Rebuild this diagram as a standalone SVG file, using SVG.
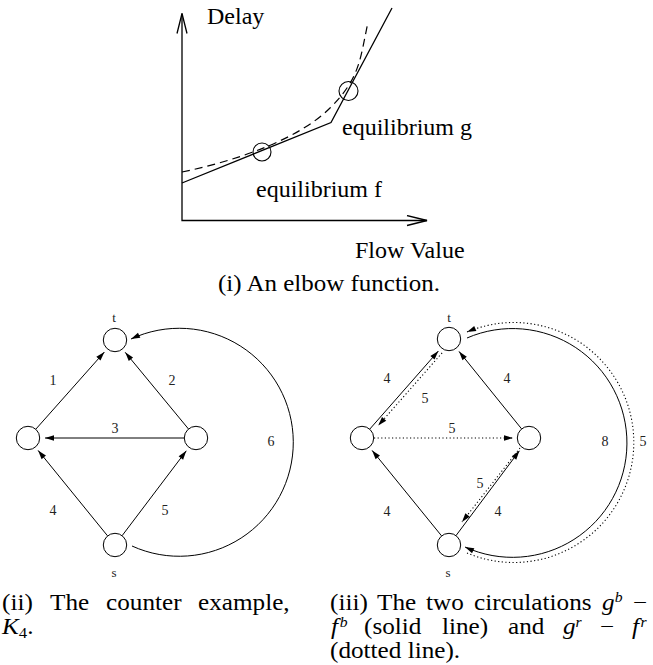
<svg xmlns="http://www.w3.org/2000/svg" width="653" height="665" viewBox="0 0 653 665">
<style>
.ax{fill:none;stroke:#000;stroke-width:1.3}
.cv{fill:none;stroke:#000;stroke-width:1.3}
.ds{fill:none;stroke:#000;stroke-width:1.2;stroke-dasharray:8 5}
.eq{fill:none;stroke:#000;stroke-width:1.1}
.lbl{font-family:"Liberation Serif",serif;font-size:24px;fill:#000}
.nd{fill:#fff;stroke:#000;stroke-width:1}
.ed{fill:none;stroke:#000;stroke-width:1}
.dt{fill:none;stroke:#000;stroke-width:1.1;stroke-dasharray:1.2 2.4}
.gl{font-family:"Liberation Serif",serif;font-size:14px;fill:#222;text-anchor:middle}
.nl{font-family:"Liberation Serif",serif;font-size:13px;fill:#222;text-anchor:middle}
.cap{font-family:"Liberation Serif",serif;font-size:22.5px;fill:#000}
.it{font-style:italic}
.sup{font-style:italic;font-size:14px}
.sub{font-size:15px}
</style>
<defs>
<marker id="open" viewBox="-21 -6 22 12" refX="0" refY="0" markerWidth="22" markerHeight="12" markerUnits="userSpaceOnUse" orient="auto-start-reverse">
<path d="M-20,-5 L0,0 L-20,5" fill="none" stroke="#000" stroke-width="1.3"/>
</marker>
<marker id="arr" viewBox="-10 -4 11 8" refX="0" refY="0" markerWidth="11" markerHeight="8" markerUnits="userSpaceOnUse" orient="auto">
<path d="M0,0 L-9,-2.8 L-9,2.8 Z" fill="#000"/>
</marker>
</defs>

<!-- (i) elbow function chart -->
<g id="chart">
<polyline class="ax" points="182,13.5 182,220.5 427,220.5" marker-start="url(#open)" marker-end="url(#open)"/>
<polyline class="cv" points="182,183 331,122.5 392,8"/>
<path class="ds" d="M182,172 C240,160 300,138 330,108 S360,60 368,22"/>
<circle class="eq" cx="262" cy="152" r="9"/>
<circle class="eq" cx="348.5" cy="91" r="9.5"/>
<text class="lbl" x="207" y="24">Delay</text>
<text class="lbl" x="342" y="135">equilibrium g</text>
<text class="lbl" x="256" y="197">equilibrium f</text>
<text class="lbl" x="355" y="258">Flow Value</text>
</g>
<text id="cap1" class="cap" x="218" y="291" textLength="222" lengthAdjust="spacingAndGlyphs">(i) An elbow function.</text>

<!-- (ii) counter example K4 -->
<g id="graph2">
<g id="g2-edges">
<path class="ed" d="M35.8,429.2 L104.4,352" marker-end="url(#arr)"/>
<path class="ed" d="M188.5,429 L125.2,352.3" marker-end="url(#arr)"/>
<path class="ed" d="M184.3,438 L45,438" marker-end="url(#arr)"/>
<path class="ed" d="M107.6,535.9 L38.1,450.4" marker-end="url(#arr)"/>
<path class="ed" d="M122.1,535.7 L186.3,450.8" marker-end="url(#arr)"/>
<path class="ed" d="M132,546 A114,114 0 1 0 131,339" marker-end="url(#arr)"/>
<text class="gl" x="53" y="385">1</text>
<text class="gl" x="172" y="385">2</text>
<text class="gl" x="115" y="433">3</text>
<text class="gl" x="53" y="515">4</text>
<text class="gl" x="165" y="515">5</text>
<text class="gl" x="271" y="446">6</text>
</g>
<g id="g2-t"><circle class="nd" cx="115" cy="340" r="11.7"/><text class="nl" x="114" y="322">t</text></g>
<g id="g2-l"><circle class="nd" cx="28" cy="438" r="11.7"/></g>
<g id="g2-r"><circle class="nd" cx="196" cy="438" r="11.7"/></g>
<g id="g2-s"><circle class="nd" cx="115" cy="545" r="11.7"/><text class="nl" x="114" y="577">s</text></g>
</g>

<!-- (iii) circulations -->
<g id="graph3">
<g id="g3-edges">
<path class="ed" d="M369.7,429.2 L438.4,351" marker-end="url(#arr)"/>
<path class="dt" d="M442.1,352.9 L378.2,425.6" marker-end="url(#arr)"/>
<path class="ed" d="M521.6,428.9 L459,351.4" marker-end="url(#arr)"/>
<path class="dt" d="M374,438 L513,438" marker-end="url(#arr)"/>
<path class="ed" d="M441.6,535.9 L372.1,450.4" marker-end="url(#arr)"/>
<path class="ed" d="M456,535.6 L519.4,450.8" marker-end="url(#arr)"/>
<path class="dt" d="M520,448 L462,522" marker-end="url(#arr)"/>
<path class="ed" d="M467,338 A114.4,114.4 0 1 1 465,547" marker-end="url(#arr)"/>
<path class="dt" d="M467,553 A120,120 0 1 0 467,332" marker-end="url(#arr)"/>
<text class="gl" x="387" y="383">4</text>
<text class="gl" x="425" y="403">5</text>
<text class="gl" x="507" y="383">4</text>
<text class="gl" x="452" y="433">5</text>
<text class="gl" x="605" y="446">8</text>
<text class="gl" x="643" y="446">5</text>
<text class="gl" x="480" y="488">5</text>
<text class="gl" x="387" y="516">4</text>
<text class="gl" x="498" y="516">4</text>
</g>
<g id="g3-t"><circle class="nd" cx="449" cy="339" r="11.7"/><text class="nl" x="449" y="322">t</text></g>
<g id="g3-l"><circle class="nd" cx="362" cy="438" r="11.7"/></g>
<g id="g3-r"><circle class="nd" cx="529" cy="438" r="11.7"/></g>
<g id="g3-s"><circle class="nd" cx="449" cy="545" r="11.7"/><text class="nl" x="448" y="577">s</text></g>
</g>

<!-- captions -->
<g id="cap2" class="cap" transform="translate(2,0) scale(1.12,1)">
<text y="610"><tspan x="0">(ii)</tspan><tspan x="42.9">The</tspan><tspan x="92.9">counter</tspan><tspan x="175">example,</tspan></text>
<text y="634"><tspan x="0" class="it">K</tspan><tspan class="sub" dy="4">4</tspan><tspan dy="-4">.</tspan></text>
</g>
<g id="cap3" class="cap" transform="translate(330,0) scale(1.12,1)">
<text y="610"><tspan x="0" y="610">(iii)</tspan><tspan x="42" y="610">The</tspan><tspan x="85.7" y="610">two</tspan><tspan x="128.6" y="610">circulations</tspan><tspan x="242.9" y="610" class="it">g</tspan><tspan class="sup" y="602">b</tspan><tspan x="270.5" y="610">−</tspan></text>
<text y="634"><tspan x="0.9" y="634" class="it">f</tspan><tspan class="sup" dx="1.5" y="627">b</tspan><tspan x="30.4" y="634">(solid</tspan><tspan x="100" y="634">line)</tspan><tspan x="158.9" y="634">and</tspan><tspan x="208" y="634" class="it">g</tspan><tspan class="sup" y="627">r</tspan><tspan x="241" y="634">−</tspan><tspan x="269.6" y="634" class="it">f</tspan><tspan class="sup" dx="1.5" y="627">r</tspan></text>
<text y="658"><tspan x="0">(dotted line).</tspan></text>
</g>
</svg>
